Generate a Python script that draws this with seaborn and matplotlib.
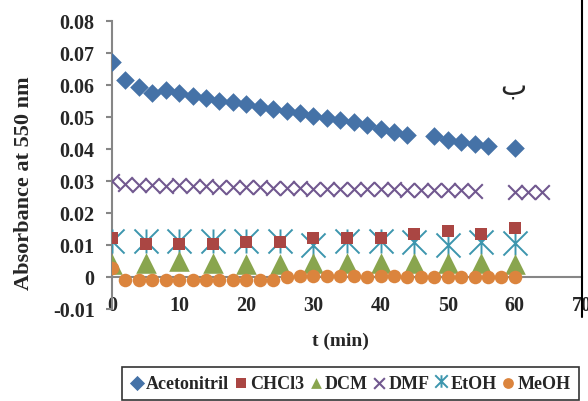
# -*- coding: utf-8 -*-
# Absorbance a 550 nm en fonction du temps, pour 6 solvants

import matplotlib.pyplot as plt
import seaborn as sns
from matplotlib.path import Path
from matplotlib.lines import Line2D

# Acetonitril : mesures toutes les 2 min (manquent 46 et 58)
t_acn = [0, 2, 4, 6, 8, 10, 12, 14, 16, 18, 20, 22, 24, 26, 28, 30, 32, 34, 36, 38, 40, 42, 44,
         48, 50, 52, 54, 56, 60]
acn = [0.0670, 0.0615, 0.0593, 0.0573, 0.0583, 0.0572, 0.0565, 0.0557, 0.0548, 0.0546, 0.0538,
       0.0531, 0.0524, 0.0516, 0.0512, 0.0503, 0.0496, 0.0489, 0.0483, 0.0474, 0.0462, 0.0452,
       0.0441, 0.0438, 0.0427, 0.0421, 0.0415, 0.0407, 0.0402]

# CHCl3, DCM, EtOH : toutes les 5 min
t_5 = [0, 5, 10, 15, 20, 25, 30, 35, 40, 45, 50, 55, 60]
chcl3 = [0.0119, 0.0101, 0.0101, 0.0101, 0.0109, 0.0109, 0.0120, 0.0120, 0.0120, 0.0132, 0.0141,
         0.0132, 0.0151]
dcm = [0.0038, 0.0041, 0.0049, 0.0041, 0.0040, 0.0040, 0.0042, 0.0042, 0.0042, 0.0042, 0.0042,
       0.0042, 0.0040]
etoh = [0.0110, 0.0110, 0.0110, 0.0110, 0.0110, 0.0110, 0.0097, 0.0110, 0.0110, 0.0108, 0.0098,
        0.0108, 0.0104]

# DMF
t_dmf = [0, 2, 4, 6, 8, 10, 12, 14, 16, 18, 20, 22, 24, 26, 28, 30, 32, 34, 36, 38, 40, 42, 44,
         46, 48, 50, 52, 54, 60, 62, 64]
dmf = [0.0298, 0.0288, 0.0285, 0.0287, 0.0284, 0.0285, 0.0283, 0.0282, 0.0281, 0.0281, 0.0279,
       0.0279, 0.0277, 0.0276, 0.0277, 0.0275, 0.0275, 0.0274, 0.0273, 0.0273, 0.0272, 0.0272,
       0.0271, 0.0271, 0.0270, 0.0270, 0.0270, 0.0268, 0.0264, 0.0264, 0.0263]

# MeOH
t_meoh = list(range(0, 61, 2))
meoh = [0.0028, -0.0011, -0.0011, -0.0011, -0.0011, -0.0011, -0.0011, -0.0011, -0.0011, -0.0011,
        -0.0011, -0.0010, -0.0011, -0.0001, 0.0002, 0.0002, 0.0001, 0.0001, 0.0001, 0.0000,
        0.0001, 0.0001, 0.0000, 0.0000, 0.0000, 0.0000, 0.0000, 0.0000, 0.0000, 0.0000, 0.0000]

x_ticks = [0, 10, 20, 30, 40, 50, 60, 70]
y_ticks = [-0.01, 0, 0.01, 0.02, 0.03, 0.04, 0.05, 0.06, 0.07, 0.08]
y_labels = ["-0.01", "0", "0.01", "0.02", "0.03", "0.04", "0.05", "0.06", "0.07", "0.08"]

# Style
sns.set_style("white")
plt.rcParams["font.family"] = ["Liberation Serif", "DejaVu Sans"]
plt.rcParams["font.weight"] = "bold"

fig = plt.figure(figsize=(5.88, 4.02), dpi=100)
ax = fig.add_axes([112 / 588, 1 - 309.5 / 402, 470 / 588, 288 / 402])

# marqueur "etoile" type Excel (X + trait vertical)
star = Path([(-0.5, -0.5), (0.5, 0.5), (-0.5, 0.5), (0.5, -0.5), (0, -0.5), (0, 0.5)],
            [Path.MOVETO, Path.LINETO] * 3)

sns.scatterplot(x=t_acn, y=acn, marker="D", s=90, color="#4572A7", linewidth=0,
                label="Acetonitril", ax=ax, zorder=3)
sns.scatterplot(x=t_5, y=etoh, marker=star, s=300, color="#3D96AE", edgecolor="#3D96AE",
                linewidth=1.4, ax=ax, zorder=3)
sns.scatterplot(x=t_5, y=chcl3, marker="s", s=85, color="#AA4643", linewidth=0,
                label="CHCl3", ax=ax, zorder=4)
sns.scatterplot(x=t_5, y=dcm, marker="^", s=220, color="#89A54E", linewidth=0,
                label="DCM", ax=ax, zorder=3)
sns.scatterplot(x=t_dmf, y=dmf, marker="x", s=110, color="#71588F", linewidth=1.5,
                label="DMF", ax=ax, zorder=3)
sns.scatterplot(x=t_meoh, y=meoh, marker="o", s=95, color="#DB843D", linewidth=0,
                label="MeOH", ax=ax, zorder=5)

ax.set_xlim(0, 70)
ax.set_ylim(-0.01, 0.08)
ax.set_xticks(x_ticks)
ax.set_yticks(y_ticks)
ax.set_yticklabels(y_labels)

for s in ["top", "right"]:
    ax.spines[s].set_visible(False)
ax.spines["bottom"].set_position(("data", 0))
for s in ["left", "bottom"]:
    ax.spines[s].set_color("#868686")
    ax.spines[s].set_linewidth(1.5)
ax.tick_params(axis="y", direction="out", length=4.5, width=1.5, color="#868686",
               pad=8, labelsize=14.5, left=True)
ax.tick_params(axis="x", length=0, pad=13, labelsize=14.5)

ax.set_xlabel("t (min)", fontsize=14, fontweight="bold")
ax.xaxis.set_label_coords(0.487, -0.08)
ax.set_ylabel("Absorbance at 550 nm", fontsize=16, fontweight="bold")
ax.yaxis.set_label_coords(-0.165, 0.44)

ax.text(59.7, 0.0598, "ب", fontsize=20, family=["DejaVu Sans"], ha="center", va="center",
        fontweight="normal")

# legende (ordre Excel)
h, l = ax.get_legend_handles_labels()
ax.get_legend().remove()
h.insert(4, Line2D([], [], marker=star, ls="", color="#3D96AE", markeredgewidth=1.4))
l.insert(4, "EtOH")
leg = fig.legend(h, l, loc="upper center", bbox_to_anchor=(350.5 / 588, 1 - 367.5 / 402),
                 ncol=6, frameon=True, fancybox=False, edgecolor="black",
                 prop={"size": 13, "weight": "bold"},
                 handlelength=0.7, handletextpad=0.15, columnspacing=0.3, borderpad=0.45,
                 borderaxespad=0)
leg.get_frame().set_linewidth(1.2)
for hd in leg.legend_handles:
    if hasattr(hd, "set_sizes"):
        hd.set_sizes([60])
    else:
        hd.set_markersize(9)

# bord droit du cadre
fig.add_artist(Line2D([582 / 588, 582 / 588], [1, 1 - 318 / 402], transform=fig.transFigure,
                      color="black", lw=1.5))

fig.savefig("out.png", dpi=100)
